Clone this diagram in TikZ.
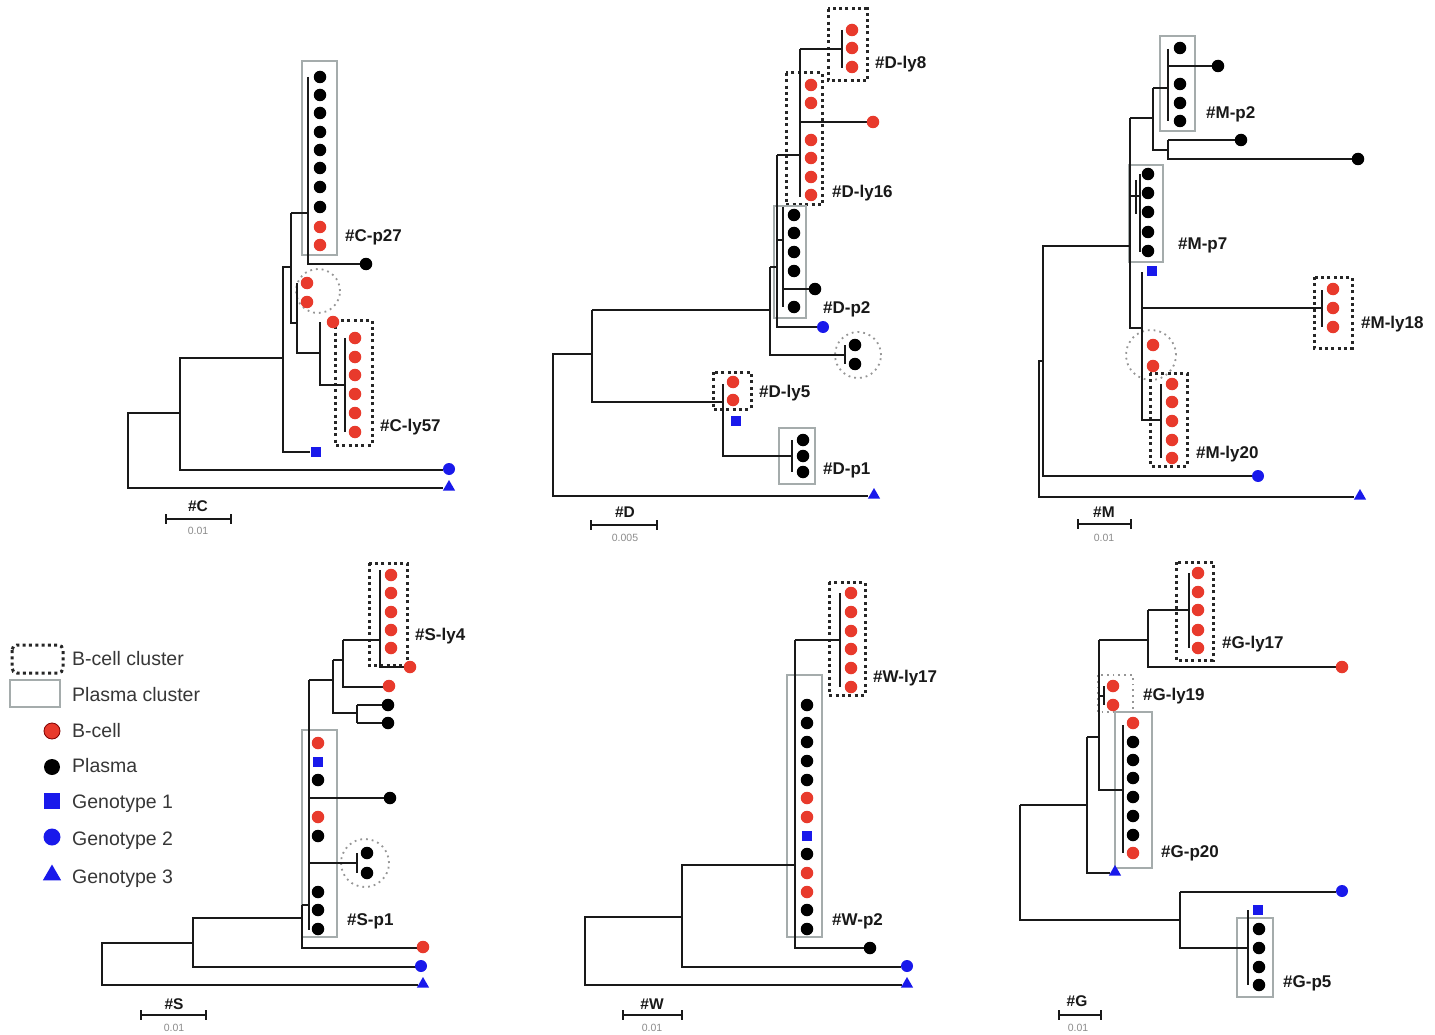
\documentclass[tikz,border=0pt]{standalone}
\usepackage{fontspec}
\setmainfont{Liberation Sans}
\usetikzlibrary{shapes.geometric}
\definecolor{bred}{RGB}{232,58,44}
\definecolor{gblue}{RGB}{25,25,235}
\definecolor{pgray}{RGB}{165,172,172}
\definecolor{cgray}{RGB}{150,150,150}
\definecolor{txtg}{RGB}{55,55,55}
\tikzset{
  branch/.style={line width=1.9pt, draw=black!90},
  bclus/.style={draw=black!85, line width=3pt, dash pattern=on 3pt off 3.3pt},
  pclus/.style={draw=pgray, line width=1.3pt},
  gring/.style={draw=cgray, line width=1.8pt, dash pattern=on 1.8pt off 4pt},
  bcell/.style={circle, fill=bred, inner sep=0pt, minimum size=12.5pt},
  pcell/.style={circle, fill=black, inner sep=0pt, minimum size=12.5pt},
  gsq/.style={rectangle, fill=gblue, inner sep=0pt, minimum size=10pt},
  gci/.style={circle, fill=gblue, inner sep=0pt, minimum size=12pt},
  gtr/.style={regular polygon, regular polygon sides=3, fill=gblue, inner sep=0pt, minimum size=14pt},
  lab/.style={font=\fontsize{17}{19}\selectfont\bfseries, anchor=base west, inner sep=0pt, text=black!90},
  sclab/.style={font=\fontsize{15.5}{17}\selectfont\bfseries, anchor=base, inner sep=0pt, text=black!90},
  scnum/.style={font=\fontsize{10.5}{12}\selectfont, anchor=base, inner sep=0pt, text=black!45},
  legtxt/.style={font=\fontsize{19.5}{22}\selectfont, anchor=base west, inner sep=0pt, text=txtg},
  scbar/.style={line width=1.7pt, |-|, draw=black!90}
}
\newcommand\Bdot[2]{\node[bcell] (b-#1-#2) at (#1,#2) {};}
\newcommand\Pdot[2]{\node[pcell] (p-#1-#2) at (#1,#2) {};}
\newcommand\Gsq[2]{\node[gsq] (s-#1-#2) at (#1,#2) {};}
\newcommand\Gci[2]{\node[gci] (c-#1-#2) at (#1,#2) {};}
\newcommand\Gtr[2]{\node[gtr] (t-#1-#2) at (#1,#2) {};}
\begin{document}
\begin{tikzpicture}[x=1pt,y=-1pt]
\useasboundingbox[fill=white] (0,0) rectangle (1435,1035);

% ================= Tree C =================
\draw[pclus] (302,61) rectangle (337,255);
\draw[bclus] (335,320) rectangle (372,445);
\draw[gring] (318,291) circle (22pt);
\draw[branch] (443,488) -- (128,488) -- (128,413) -- (180,413);
\draw[branch] (443,470) -- (180,470) -- (180,358) -- (283,358);
\draw[branch] (310,452) -- (283,452) -- (283,267) -- (291,267);
\draw[branch] (291,213) -- (291,323) -- (297,323);
\draw[branch] (291,213) -- (308,213);
\draw[branch] (308,77) -- (308,264) -- (360,264);
\foreach \y in {77,95,113,132,150,168,187,207} {\Pdot{320}{\y}}
\Bdot{320}{227}\Bdot{320}{245}
\Pdot{366}{264}
\draw[branch] (297,283) -- (297,353) -- (320,353);
\Bdot{307}{283}\Bdot{307}{302}
\draw[branch] (320,322) -- (320,385) -- (345,385);
\Bdot{333}{322}
\draw[branch] (345,338) -- (345,432);
\foreach \y in {338,357,375,394,413,432} {\Bdot{355}{\y}}
\Gsq{316}{452}
\Gci{449}{469}
\Gtr{449}{487}
\node[lab] (lcp27) at (345,242) {\#C-p27};
\node[lab] (lcly57) at (380,431) {\#C-ly57};
\draw[scbar] (165,519) -- (232,519);
\node[sclab] (sc) at (198,511) {\#C};
\node[scnum] (scn) at (198,534) {0.01};

% ================= Tree D =================
\draw[bclus] (828,9) rectangle (867,81);
\draw[bclus] (786,73) rectangle (822,205);
\draw[pclus] (774,206) rectangle (806,318);
\draw[gring] (858,355) circle (23pt);
\draw[bclus] (713,372) rectangle (751,409);
\draw[pclus] (779,428) rectangle (815,484);
\draw[branch] (868,496) -- (553,496) -- (553,354) -- (592,354);
\draw[branch] (592,310) -- (592,402) -- (723,402);
\draw[branch] (592,310) -- (770,310);
\draw[branch] (770,267) -- (770,355) -- (845,355);
\draw[branch] (845,345) -- (845,364);
\Pdot{855}{345}\Pdot{855}{364}
\draw[branch] (770,267) -- (777,267);
\draw[branch] (777,155) -- (777,327) -- (818,327);
\Gci{823}{327}
\draw[branch] (777,155) -- (800,155);
\draw[branch] (800,49) -- (800,197);
\draw[branch] (800,49) -- (842,49);
\draw[branch] (842,30) -- (842,68);
\foreach \y in {30,48,67} {\Bdot{852}{\y}}
\draw[branch] (800,122) -- (868,122);
\Bdot{873}{122}
\foreach \y in {85,103,140,158,177,195} {\Bdot{811}{\y}}
\draw[branch] (777,240) -- (783,240);
\draw[branch] (783,207) -- (783,307);
\draw[branch] (783,289) -- (810,289);
\Pdot{815}{289}
\foreach \y in {215,233,252,271,307} {\Pdot{794}{\y}}
\draw[branch] (723,384) -- (723,456) -- (792,456);
\draw[branch] (792,440) -- (792,472);
\Bdot{733}{382}\Bdot{733}{400}
\Gsq{736}{421}
\foreach \y in {440,456,472} {\Pdot{803}{\y}}
\Gtr{874}{495}
\node[lab] (ldly8) at (875,69) {\#D-ly8};
\node[lab] (ldly16) at (832,198) {\#D-ly16};
\node[lab] (ldp2) at (823,313) {\#D-p2};
\node[lab] (ldly5) at (759,397) {\#D-ly5};
\node[lab] (ldp1) at (823,474) {\#D-p1};
\draw[scbar] (590,525) -- (658,525);
\node[sclab] (sd) at (625,517) {\#D};
\node[scnum] (sdn) at (625,541) {0.005};

% ================= Tree M =================
\draw[pclus] (1160,36) rectangle (1195,131);
\draw[pclus] (1129,165) rectangle (1163,262);
\draw[bclus] (1314,277) rectangle (1352,348);
\draw[gring] (1151,355) circle (25pt);
\draw[bclus] (1150,373) rectangle (1187,466);
\draw[branch] (1354,497) -- (1039,497) -- (1039,361) -- (1043,361);
\draw[branch] (1252,476) -- (1043,476) -- (1043,246) -- (1130,246);
\draw[branch] (1130,118) -- (1130,328) -- (1142,328);
\draw[branch] (1130,118) -- (1153,118);
\draw[branch] (1153,88) -- (1153,150) -- (1168,150);
\draw[branch] (1153,88) -- (1168,88);
\draw[branch] (1168,49) -- (1168,121);
\draw[branch] (1168,66) -- (1212,66);
\Pdot{1218}{66}
\foreach \y in {48,84,103,121} {\Pdot{1180}{\y}}
\draw[branch] (1168,140) -- (1168,159) -- (1352,159);
\Pdot{1358}{159}
\draw[branch] (1168,140) -- (1235,140);
\Pdot{1241}{140}
\draw[branch] (1130,196) -- (1140,196);
\draw[branch] (1140,174) -- (1140,252);
\draw[branch] (1136,180) -- (1136,214);
\foreach \y in {174,193,212,232,251} {\Pdot{1148}{\y}}
\Gsq{1152}{271}
\draw[branch] (1142,272) -- (1142,420) -- (1161,420);
\draw[branch] (1142,308) -- (1322,308);
\draw[branch] (1322,290) -- (1322,327);
\foreach \y in {289,308,327} {\Bdot{1333}{\y}}
\Bdot{1153}{345}\Bdot{1153}{366}
\draw[branch] (1161,384) -- (1161,458);
\foreach \y in {384,402,421,440,458} {\Bdot{1172}{\y}}
\Gci{1258}{476}
\Gtr{1360}{496}
\node[lab] (lmp2) at (1206,119) {\#M-p2};
\node[lab] (lmp7) at (1178,250) {\#M-p7};
\node[lab] (lmly18) at (1361,328) {\#M-ly18};
\node[lab] (lmly20) at (1196,458) {\#M-ly20};
\draw[scbar] (1077,524) -- (1132,524);
\node[sclab] (sm) at (1104,517) {\#M};
\node[scnum] (smn) at (1104,541) {0.01};

% ================= Tree S =================
\draw[bclus] (369,563) rectangle (407,665);
\draw[pclus] (302,730) rectangle (337,937);
\draw[gring] (365,863) circle (24pt);
\draw[branch] (418,985) -- (102,985) -- (102,943) -- (193,943);
\draw[branch] (416,967) -- (193,967) -- (193,918) -- (302,918);
\draw[branch] (302,905) -- (302,948) -- (418,948);
\draw[branch] (302,905) -- (309,905);
\draw[branch] (309,680) -- (309,930);
\draw[branch] (309,680) -- (333,680);
\draw[branch] (333,660) -- (333,713) -- (357,713);
\draw[branch] (333,660) -- (343,660);
\draw[branch] (343,640) -- (343,687) -- (384,687);
\draw[branch] (343,640) -- (380,640);
\draw[branch] (380,570) -- (380,667) -- (405,667);
\foreach \y in {575,593,612,630,648} {\Bdot{391}{\y}}
\Bdot{410}{667}
\Bdot{389}{686}
\draw[branch] (357,705) -- (357,723);
\draw[branch] (357,705) -- (383,705);
\draw[branch] (357,723) -- (383,723);
\Pdot{388}{705}\Pdot{388}{723}
\Bdot{318}{743}
\Gsq{318}{762}
\Pdot{318}{780}
\Bdot{318}{817}
\Pdot{318}{836}
\foreach \y in {892,910,929} {\Pdot{318}{\y}}
\draw[branch] (309,798) -- (384,798);
\Pdot{390}{798}
\draw[branch] (309,863) -- (357,863);
\draw[branch] (357,853) -- (357,873);
\Pdot{367}{853}\Pdot{367}{873}
\Bdot{423}{947}
\Gci{421}{966}
\Gtr{423}{984}
\node[lab] (lsly4) at (415,640) {\#S-ly4};
\node[lab] (lsp1) at (347,925) {\#S-p1};
\draw[scbar] (140,1015) -- (207,1015);
\node[sclab] (ss) at (174,1009) {\#S};
\node[scnum] (ssn) at (174,1031) {0.01};

% ================= Legend =================
\draw[bclus, rounded corners=5pt] (12,645) rectangle (63,673);
\draw[pclus] (10,680) rectangle (60,707);
\node[circle, fill=bred, draw=red!50!black, line width=0.8pt, inner sep=0pt, minimum size=16pt] (lgb) at (52,731) {};
\node[circle, fill=black, inner sep=0pt, minimum size=16pt] (lgp) at (52,767) {};
\node[rectangle, fill=gblue, inner sep=0pt, minimum size=16pt] (lg1) at (52,801) {};
\node[circle, fill=gblue, inner sep=0pt, minimum size=17pt] (lg2) at (52,837) {};
\node[regular polygon, regular polygon sides=3, fill=gblue, inner sep=0pt, minimum size=21pt] (lg3) at (52,875) {};
\node[legtxt] (lt1) at (72,665) {B-cell cluster};
\node[legtxt] (lt2) at (72,701) {Plasma cluster};
\node[legtxt] (lt3) at (72,737) {B-cell};
\node[legtxt] (lt4) at (72,772) {Plasma};
\node[legtxt] (lt5) at (72,808) {Genotype 1};
\node[legtxt] (lt6) at (72,845) {Genotype 2};
\node[legtxt] (lt7) at (72,883) {Genotype 3};

% ================= Tree W =================
\draw[bclus] (829,582) rectangle (865,695);
\draw[pclus] (787,675) rectangle (822,937);
\draw[branch] (902,985) -- (585,985) -- (585,917) -- (682,917);
\draw[branch] (901,967) -- (682,967) -- (682,865) -- (795,865);
\draw[branch] (795,640) -- (795,948) -- (864,948);
\draw[branch] (795,640) -- (840,640);
\draw[branch] (840,593) -- (840,687);
\foreach \y in {593,612,631,649,668,687} {\Bdot{851}{\y}}
\foreach \y in {705,723,742,761,780,854,910,929} {\Pdot{807}{\y}}
\foreach \y in {798,817,873,892} {\Bdot{807}{\y}}
\Gsq{807}{836}
\Pdot{870}{948}
\Gci{907}{966}
\Gtr{907}{984}
\node[lab] (lwly17) at (873,682) {\#W-ly17};
\node[lab] (lwp2) at (832,925) {\#W-p2};
\draw[scbar] (622,1015) -- (683,1015);
\node[sclab] (sw) at (652,1009) {\#W};
\node[scnum] (swn) at (652,1031) {0.01};

% ================= Tree G =================
\draw[bclus] (1176,562) rectangle (1213,660);
\draw[gring] (1098,675) rectangle (1133,712);
\draw[pclus] (1115,712) rectangle (1152,868);
\draw[pclus] (1237,918) rectangle (1273,997);
\draw[branch] (1020,805) -- (1020,920) -- (1180,920);
\draw[branch] (1020,805) -- (1087,805);
\draw[branch] (1180,892) -- (1180,948) -- (1248,948);
\draw[branch] (1180,892) -- (1336,892);
\draw[branch] (1248,910) -- (1248,985);
\Gsq{1258}{910}
\foreach \y in {929,948,967,985} {\Pdot{1259}{\y}}
\draw[branch] (1087,737) -- (1087,873) -- (1110,873);
\Gtr{1115}{872}
\draw[branch] (1087,737) -- (1099,737);
\draw[branch] (1099,640) -- (1099,790) -- (1123,790);
\draw[branch] (1099,640) -- (1148,640);
\draw[branch] (1099,696) -- (1104,696);
\draw[branch] (1104,686) -- (1104,705);
\Bdot{1113}{686}\Bdot{1113}{705}
\draw[branch] (1148,610) -- (1148,667) -- (1336,667);
\Bdot{1342}{667}
\draw[branch] (1148,610) -- (1189,610);
\draw[branch] (1189,573) -- (1189,648);
\foreach \y in {573,592,610,630,648} {\Bdot{1198}{\y}}
\draw[branch] (1123,725) -- (1123,853);
\Bdot{1133}{723}\Bdot{1133}{853}
\foreach \y in {742,760,778,797,816,835} {\Pdot{1133}{\y}}
\Gci{1342}{891}
\node[lab] (lgly17) at (1222,648) {\#G-ly17};
\node[lab] (lgly19) at (1143,700) {\#G-ly19};
\node[lab] (lgp20) at (1161,857) {\#G-p20};
\node[lab] (lgp5) at (1283,987) {\#G-p5};
\draw[scbar] (1058,1015) -- (1102,1015);
\node[sclab] (sg) at (1077,1006) {\#G};
\node[scnum] (sgn) at (1078,1031) {0.01};
\end{tikzpicture}
\end{document}
